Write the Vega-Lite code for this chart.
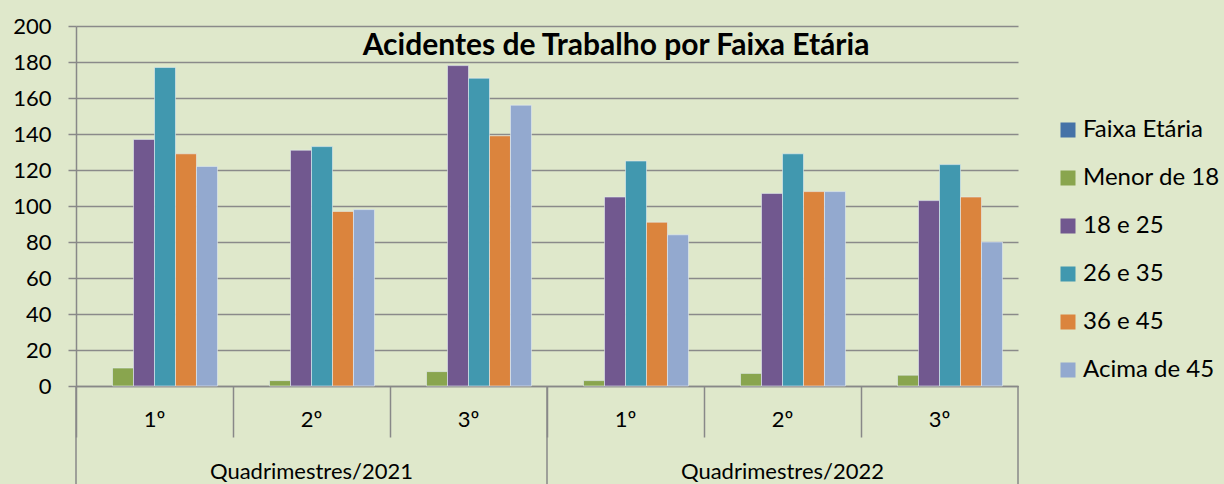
{
  "$schema": "https://vega.github.io/schema/vega-lite/v6.json",
  "width": 942,
  "height": 360,
  "autosize": {"type": "none"},
  "padding": {"left": 76, "top": 26, "right": 206, "bottom": 98},
  "background": "#DFE8CB",
  "config": {
    "font": "Lato",
    "view": {"stroke": null},
    "axisY": {
      "tickCount": 11,
      "labelOverlap": false,
      "grid": true,
      "gridColor": "#8A8A8A",
      "gridWidth": 1.5,
      "domainColor": "#888888",
      "domainWidth": 1.5,
      "tickColor": "#888888",
      "tickSize": 8,
      "tickWidth": 1.5,
      "labelFontSize": 22,
      "labelColor": "#000000",
      "labelPadding": 17
    }
  },
  "title": {
    "text": "Acidentes de Trabalho por Faixa Etária",
    "anchor": "middle",
    "dx": 69,
    "offset": -61,
    "baseline": "middle",
    "fontSize": 30,
    "fontWeight": "bold",
    "color": "#000000"
  },
  "layer": [
    {
      "data": {
        "values": [
          {"q": "2021 1º", "serie": "Menor de 18", "v": 10},
          {"q": "2021 1º", "serie": "18 e 25", "v": 137},
          {"q": "2021 1º", "serie": "26 e 35", "v": 177},
          {"q": "2021 1º", "serie": "36 e 45", "v": 129},
          {"q": "2021 1º", "serie": "Acima de 45", "v": 122},
          {"q": "2021 2º", "serie": "Menor de 18", "v": 3},
          {"q": "2021 2º", "serie": "18 e 25", "v": 131},
          {"q": "2021 2º", "serie": "26 e 35", "v": 133},
          {"q": "2021 2º", "serie": "36 e 45", "v": 97},
          {"q": "2021 2º", "serie": "Acima de 45", "v": 98},
          {"q": "2021 3º", "serie": "Menor de 18", "v": 8},
          {"q": "2021 3º", "serie": "18 e 25", "v": 178},
          {"q": "2021 3º", "serie": "26 e 35", "v": 171},
          {"q": "2021 3º", "serie": "36 e 45", "v": 139},
          {"q": "2021 3º", "serie": "Acima de 45", "v": 156},
          {"q": "2022 1º", "serie": "Menor de 18", "v": 3},
          {"q": "2022 1º", "serie": "18 e 25", "v": 105},
          {"q": "2022 1º", "serie": "26 e 35", "v": 125},
          {"q": "2022 1º", "serie": "36 e 45", "v": 91},
          {"q": "2022 1º", "serie": "Acima de 45", "v": 84},
          {"q": "2022 2º", "serie": "Menor de 18", "v": 7},
          {"q": "2022 2º", "serie": "18 e 25", "v": 107},
          {"q": "2022 2º", "serie": "26 e 35", "v": 129},
          {"q": "2022 2º", "serie": "36 e 45", "v": 108},
          {"q": "2022 2º", "serie": "Acima de 45", "v": 108},
          {"q": "2022 3º", "serie": "Menor de 18", "v": 6},
          {"q": "2022 3º", "serie": "18 e 25", "v": 103},
          {"q": "2022 3º", "serie": "26 e 35", "v": 123},
          {"q": "2022 3º", "serie": "36 e 45", "v": 105},
          {"q": "2022 3º", "serie": "Acima de 45", "v": 80}
        ]
      },
      "mark": {"type": "bar", "stroke": "#E4ECF2", "strokeWidth": 0.6},
      "encoding": {
        "x": {
          "field": "q",
          "type": "nominal",
          "scale": {
            "domain": ["2021 1º", "2021 2º", "2021 3º", "2022 1º", "2022 2º", "2022 3º"],
            "paddingInner": 0,
            "paddingOuter": 0
          },
          "axis": {
            "title": null,
            "labelExpr": "split(datum.value, ' ')[1]",
            "bandPosition": 0,
            "tickSize": 51,
            "tickColor": "#888888",
            "tickWidth": 1.5,
            "domainColor": "#888888",
            "domainWidth": 1.5,
            "labelFontSize": 22,
            "labelColor": "#000000",
            "labelBaseline": "middle",
            "labelPadding": -18,
            "labelAngle": 0,
            "grid": false
          }
        },
        "xOffset": {
          "field": "serie",
          "type": "nominal",
          "scale": {
            "domain": ["Faixa Etária", "Menor de 18", "18 e 25", "26 e 35", "36 e 45", "Acima de 45"],
            "paddingInner": 0,
            "paddingOuter": 0.74
          }
        },
        "y": {
          "field": "v",
          "type": "quantitative",
          "scale": {"domain": [0, 200], "nice": false},
          "axis": {
            "title": null,
            "tickCount": 11,
            "values": [0, 20, 40, 60, 80, 100, 120, 140, 160, 180, 200]
          }
        },
        "color": {
          "field": "serie",
          "type": "nominal",
          "scale": {
            "domain": ["Faixa Etária", "Menor de 18", "18 e 25", "26 e 35", "36 e 45", "Acima de 45"],
            "range": ["#4572A7", "#89A54E", "#71588F", "#4198AF", "#DB843D", "#93A9CF"]
          },
          "legend": {
            "title": null,
            "orient": "none",
            "legendX": 980,
            "legendY": 92,
            "symbolType": "square",
            "symbolSize": 225,
            "symbolStrokeWidth": 0,
            "labelFontSize": 24,
            "labelColor": "#000000",
            "rowPadding": 24,
            "labelOffset": 3
          }
        }
      }
    },
    {
      "data": {"values": [{"q": "2021 1º"}, {"q": "2022 1º"}]},
      "mark": {"type": "rule", "color": "#888888", "strokeWidth": 1.5},
      "encoding": {
        "x": {"field": "q", "type": "nominal", "bandPosition": 0},
        "y": {"datum": 0},
        "y2": {"datum": -54.5}
      }
    },
    {
      "data": {"values": [{"q": "2022 3º"}]},
      "mark": {"type": "rule", "color": "#888888", "strokeWidth": 1.5},
      "encoding": {
        "x": {"field": "q", "type": "nominal", "bandPosition": 1},
        "y": {"datum": 0},
        "y2": {"datum": -54.5}
      }
    },
    {
      "data": {
        "values": [
          {"q": "2021 2º", "label": "Quadrimestres/2021"},
          {"q": "2022 2º", "label": "Quadrimestres/2022"}
        ]
      },
      "mark": {"type": "text", "fontSize": 22, "baseline": "middle", "color": "#000000"},
      "encoding": {
        "x": {"field": "q", "type": "nominal"},
        "y": {"datum": -47.8},
        "text": {"field": "label"}
      }
    }
  ]
}
